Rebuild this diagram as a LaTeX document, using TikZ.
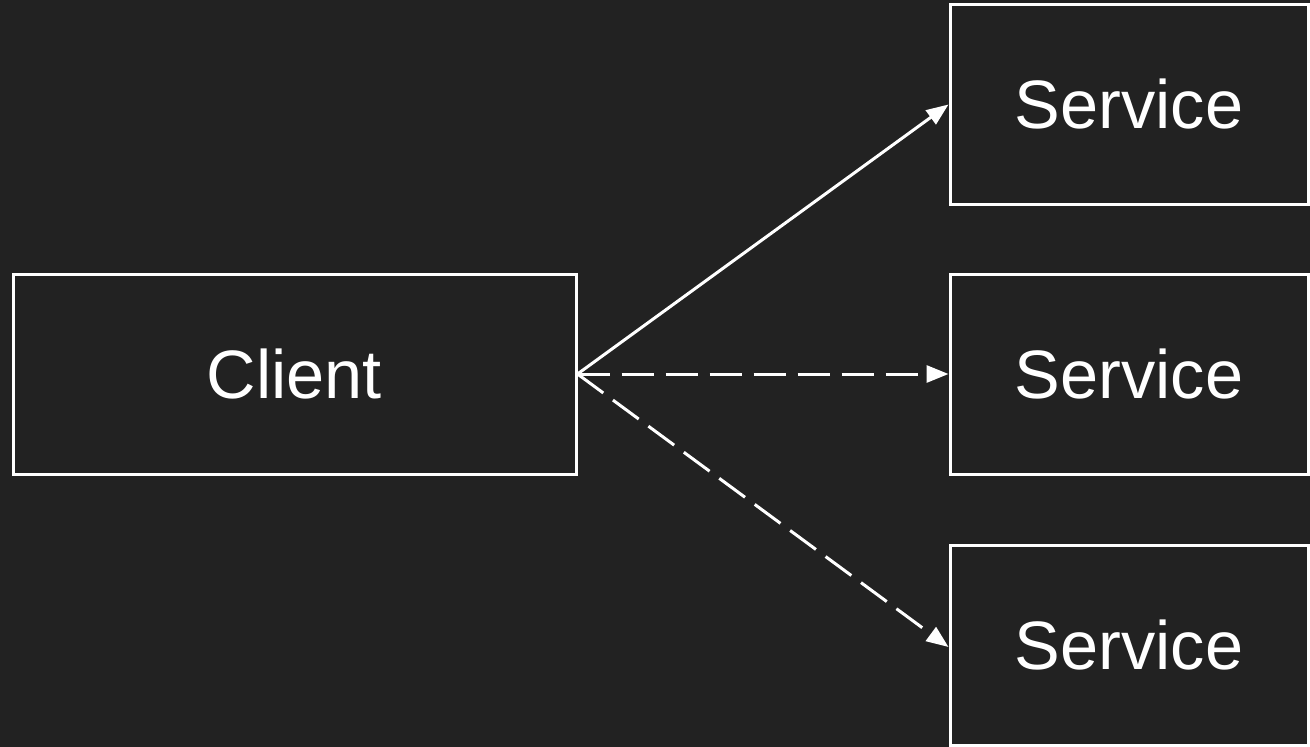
\documentclass[tikz,border=0pt]{standalone}
\usepackage{fontspec}
\setmainfont{Liberation Sans}
\usetikzlibrary{arrows.meta}
\definecolor{bg}{RGB}{34,34,34}
\tikzset{
  box/.style={draw=white, line width=3pt, rectangle, inner sep=0pt,
              minimum height=200pt, text=white,
              font=\fontsize{68.5}{80}\selectfont},
  link/.style={draw=white, line width=3pt,
               -{Triangle[length=22pt,width=17pt]}},
  dashlink/.style={link, dash pattern=on 32pt off 12pt},
}
\begin{document}
\begin{tikzpicture}[x=1pt,y=-1pt]
  \fill[bg] (0,0) rectangle (1310,747);
  \clip (0,0) rectangle (1310,747);

  \node[box, minimum width=563pt] (client) at (294.5,374) {Client};
  \node[box, minimum width=358pt] (s1) at (1129,104.5) {Service};
  \node[box, minimum width=358pt] (s2) at (1129,374) {Service};
  \node[box, minimum width=358pt] (s3) at (1129,645) {Service};

  \draw[link] (client.east) -- (s1.west);
  \draw[dashlink] (client.east) -- (s2.west);
  \draw[dashlink] (client.east) -- ([yshift=-2pt]s3.west);
\end{tikzpicture}
\end{document}
